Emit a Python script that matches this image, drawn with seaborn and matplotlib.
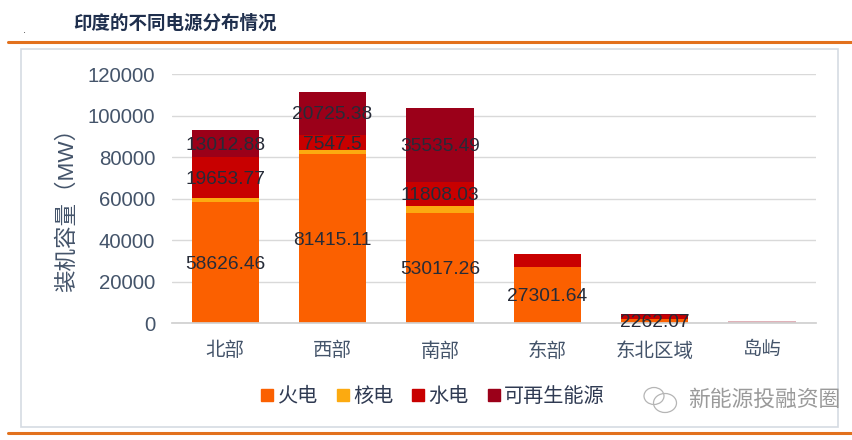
#!/usr/bin/env python
import numpy as np
import matplotlib
matplotlib.use("Agg")
import matplotlib.pyplot as plt
from matplotlib.lines import Line2D
from matplotlib.patches import Ellipse, Rectangle
import seaborn as sns

regions = ["北部", "西部", "南部", "东部", "东北区域", "岛屿"]
thermal = [58626.46, 81415.11, 53017.26, 27301.64, 2262.07, 40]
nuclear = [1620, 1840, 3320, 0, 0, 0]
hydro = [19653.77, 7547.5, 11808.03, 6000, 1500, 0]
renewable = [13012.88, 20725.38, 35535.49, 0, 700, 900]

series_names = ["火电", "核电", "水电", "可再生能源"]
series_values = [thermal, nuclear, hydro, renewable]
series_colors = ["#fb6000", "#fcaa10", "#c80000", "#9b0019"]
yticks = [0, 20000, 40000, 60000, 80000, 100000, 120000]

# which segments carry a number in the original
shown = [
    ["58626.46", "81415.11", "53017.26", "27301.64", "2262.07", ""],
    ["", "", "", "", "", ""],
    ["19653.77", "7547.5", "11808.03", "", "", ""],
    ["13012.88", "20725.38", "35535.49", "", "", ""],
]

sns.set_theme(style="white")
plt.rcParams["font.family"] = ["Liberation Sans", "Noto Sans CJK SC", "DejaVu Sans"]

W, H = 853, 440
fig = plt.figure(figsize=(W/100, H/100), dpi=100)
ax = fig.add_axes([171.6/W, 1-323.3/H, 644/W, 249.3/H])

txt = "#44546a"
bottom = np.zeros(len(regions))
for name, vals, col, labs in zip(series_names, series_values, series_colors, shown):
    sns.barplot(x=regions, y=vals, bottom=bottom, color=col, saturation=1, width=0.626,
                errorbar=None, ax=ax, zorder=2, linewidth=0, edgecolor="none")
    for t in ax.bar_label(ax.containers[-1], labels=labs, label_type="center", fontsize=13.8,
                          color="#262b38", zorder=5):
        t.xyann = (t.xyann[0], t.xyann[1]-1.2)
    bottom = bottom + np.array(vals)

# the island bar is barely visible in the original
ax.containers[-1][-1].set_alpha(0.3)

ax.set_ylim(0, 120000)
ax.set_yticks(yticks)
ax.set_yticklabels([str(t) for t in yticks], fontsize=14.7, color=txt)
ax.tick_params(axis="x", length=0, pad=13.5, labelsize=14, labelcolor=txt)
ax.tick_params(axis="y", length=0, pad=11.7)
ax.grid(axis="y", color="#d9d9d9", lw=1)
ax.set_axisbelow(True)
sns.despine(ax=ax, left=True, top=True, right=True)
ax.spines["bottom"].set_color("#d0d0d0")
ax.set_ylabel("装机容量（MW）", fontsize=16.2, color=txt)
ax.yaxis.set_label_coords(-94/644, 0.475)

handles = [Line2D([], [], ls="", marker="s", ms=8.5, color=c) for c in series_colors]
fig.legend(handles, series_names, ncol=4, loc="center", bbox_to_anchor=(433/W, 1-396/H),
           frameon=False, fontsize=14.5, labelcolor="#2f3a52", handlelength=0.6,
           handletextpad=0.2, columnspacing=0.95, borderpad=0)

# frame and the two orange rules of the slide
fig.add_artist(Rectangle((21/W, 1-427/H), 817/W, 378/H, transform=fig.transFigure,
                         fill=False, ec="#d5dbe3", lw=1.2, zorder=0))
for y in [42.5, 432.5]:
    fig.add_artist(Line2D([8/W, 1], [1-y/H, 1-y/H], color="#e2711d", lw=2.2))

fig.text(73/W, 1-24/H, "印度的不同电源分布情况", fontsize=13.3, fontweight="bold",
         color="#1f2f4d", va="center", ha="left")
fig.text(23/W, 1-30/H, ".", fontsize=8, color="#444444", va="center")

# watermark
fig.text(688/W, 1-400/H, "新能源投融资圈", fontsize=15.7, color="#9a9a9a", va="center", ha="left")
for cx, cy, w, h in [(654, 396, 20, 17), (665, 403, 23, 19)]:
    fig.add_artist(Ellipse((cx/W, 1-cy/H), w/W, h/H, transform=fig.transFigure,
                           fill=False, ec="#b5b5b5", lw=0.9))

fig.savefig("out.png", dpi=100)
plt.close()
